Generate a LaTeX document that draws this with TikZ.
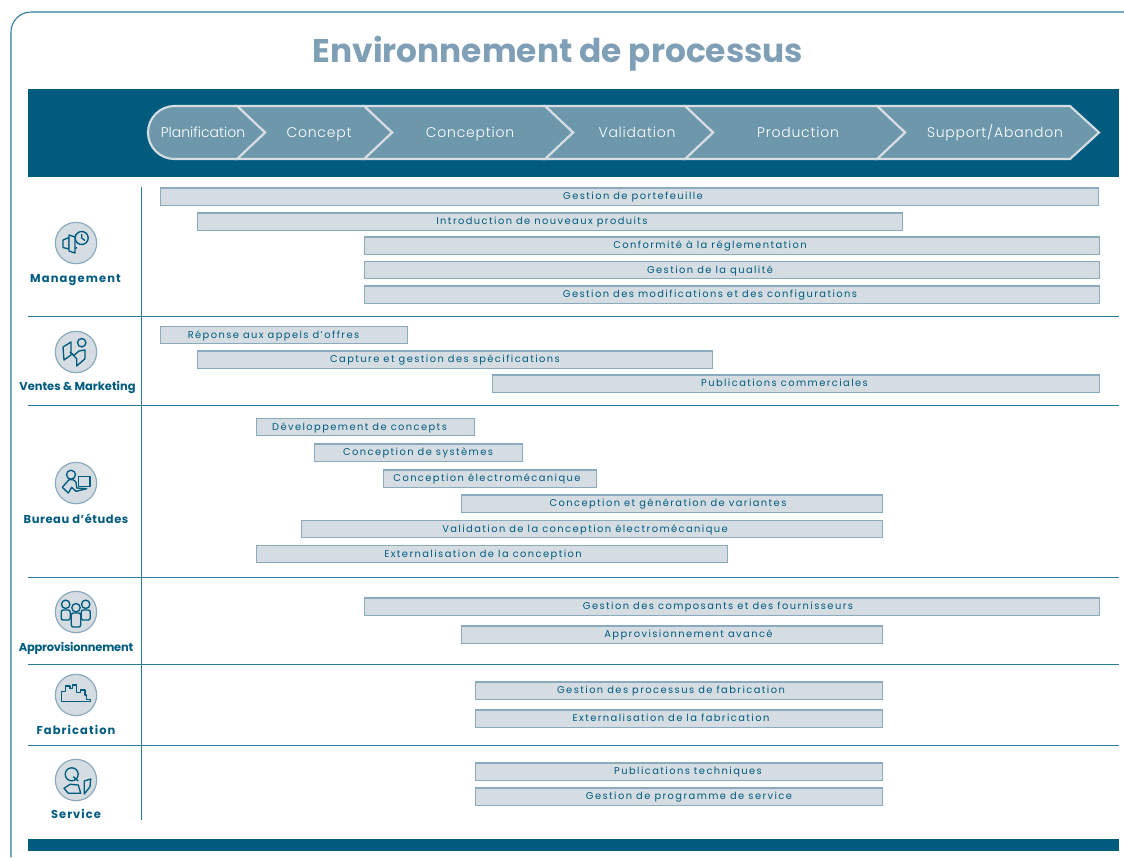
\documentclass[tikz,border=0pt]{standalone}
\usepackage{fontspec}
\setmainfont{Poppins}
\newfontfamily\barfont[LetterSpace=14.5]{Poppins}
\newfontfamily\stagefont[LetterSpace=5.5]{Poppins Light}
\newfontfamily\tightfont[LetterSpace=0]{Poppins Light}
\definecolor{deepblue}{HTML}{005B7F}
\definecolor{midblue}{HTML}{6D98AC}
\definecolor{paleblue}{HTML}{D5DDE3}
\definecolor{edgeblue}{HTML}{8AAABD}
\definecolor{linkblue}{HTML}{2A7A9B}
\definecolor{titleblue}{HTML}{7E9FB5}
\tikzset{
  procbar/.style={draw=edgeblue, fill=paleblue, line width=0.8pt, inner sep=0pt, minimum height=12.8pt},
  proctext/.style={inner sep=0pt, text height=6.5pt, text depth=1.3pt, text=deepblue, font=\barfont\fontsize{7.4}{8}\selectfont},
  stagearrow/.style={draw=paleblue, fill=midblue, line width=1.6pt, line join=miter},
  stagelabel/.style={inner sep=0pt, text height=9pt, text depth=2.5pt, text=white, font=\stagefont\fontsize{10.5}{12}\selectfont},
  rowrule/.style={draw=linkblue, line width=0.7pt},
  rowdisc/.style={circle, draw=edgeblue, fill=paleblue, line width=0.9pt, minimum size=31pt, inner sep=0pt},
  rowlabel/.style={text=deepblue, font=\bfseries\fontsize{8.6}{10}\selectfont\addfontfeature{LetterSpace=#1}},
  iconline/.style={draw=deepblue, line width=1pt, line join=round}
}
\begin{document}
\begin{tikzpicture}[x=0.75pt,y=-0.75pt]
  \useasboundingbox (0,0) rectangle (1124,857);

  % Outer frame
  \draw[linkblue, line width=0.8pt] (1124,12) -- (31,12) arc[start angle=270, end angle=180, radius=20] -- (11,857);

  % Title
  \node[text=titleblue, font=\bfseries\fontsize{24.6}{30}\selectfont] (title) at (558,53.5) {Environnement de processus};

  % Header and footer bands
  \fill[deepblue] (28,89) rectangle (1119,177);
  \fill[deepblue] (28,839) rectangle (1119,851);

  % Stages, last one first so that each tip lies on top of the next
  \draw[stagearrow] (1070,106) -- (1099,132.5) -- (1070,159) -- (877,159) -- (905,132.5) -- (877,106) -- cycle;
  \foreach \xa/\xb in {685/877, 545/685, 364/545, 237/364}
    \draw[stagearrow] (\xb,106) -- ({\xb+28},132.5) -- (\xb,159) -- (\xa,159) -- ({\xa+28},132.5) -- (\xa,106) -- cycle;
  \draw[stagearrow] (237,106) -- (265,132.5) -- (237,159) -- (174.5,159) arc[start angle=90, end angle=270, radius=26.5] -- cycle;

  \node[stagelabel, font=\tightfont\fontsize{10.5}{12}\selectfont] (planif) at (203,133.5) {Planification};
  \node[stagelabel] (concept) at (319,133.5) {Concept};
  \node[stagelabel] (concep) at (470,133.5) {Conception};
  \node[stagelabel] (valid) at (637,133.5) {Validation};
  \node[stagelabel] (prod) at (798,133.5) {Production};
  \node[stagelabel] (support) at (995,133.5) {Support/Abandon};

  % Row separators and the vertical axis
  \foreach \y in {316,405,577,664,745}
    \draw[rowrule] (28,\y) -- (1119,\y);
  \draw[rowrule] (141.5,187) -- (141.5,820);

  % Process bars: left, right, height, text centre, text
  \foreach \xa/\xb/\y/\tc/\txt [count=\i] in {
    160/1098/196.5/633/Gestion de portefeuille,
    197/902/221.5/542/Introduction de nouveaux produits,
    364/1099/245.5/710/Conformité à la réglementation,
    364/1099/270/710/Gestion de la qualité,
    364/1099/294.5/710/Gestion des modifications et des configurations,
    160/407/335/273.5/Réponse aux appels d’offres,
    197/712/359.5/445/Capture et gestion des spécifications,
    492/1099/383.5/784.5/Publications commerciales,
    256/474/427/359.5/Développement de concepts,
    314/522/452.5/418/Conception de systèmes,
    383/596/478.5/487/Conception électromécanique,
    461/882/503.5/668/Conception et génération de variantes,
    301/882/529/585/Validation de la conception électromécanique,
    256/727/554/483/Externalisation de la conception,
    364/1099/606.5/718/Gestion des composants et des fournisseurs,
    461/882/634.5/688.5/Approvisionnement avancé,
    475/882/690.5/671/Gestion des processus de fabrication,
    475/882/718.5/671/Externalisation de la fabrication,
    475/882/771.5/688/Publications techniques,
    475/882/796.5/689/Gestion de programme de service}
  {
    \node[procbar, minimum width={(\xb-\xa)*0.75pt}] (bar\i) at ({(\xa+\xb)/2+0.4},\y) {};
    \node[proctext] (bartext\i) at (\tc,\y) {\txt};
  }

  % Row discs
  \foreach \name/\y in {mgmt/243, sales/352, design/483, supply/612, manuf/695, serv/780}
    \node[rowdisc] (\name) at (76,\y) {};

  % Row labels
  \node[rowlabel=10] (mgmtlabel) at (75.5,280) {Management};
  \node[rowlabel=0] (saleslabel) at (77.5,387) {Ventes \& Marketing};
  \node[rowlabel=5] (designlabel) at (76,518.5) {Bureau d’études};
  \node[rowlabel=-2] (supplylabel) at (76,648) {Approvisionnement};
  \node[rowlabel=9.5] (manuflabel) at (76,730) {Fabrication};
  \node[rowlabel=9] (servlabel) at (76,814) {Service};

  % Management icon
  \begin{scope}[shift={(mgmt.center)}]
    \draw[iconline] (-13,-3) -- (-7,-5.5) -- (-7,6) -- (-13,4.5) -- cycle;
    \draw[iconline, fill=paleblue] (-7,-8) -- (-1,-6) -- (-1,10) -- (-7,8) -- cycle;
    \draw[iconline] (-1,-8) -- (0,-8);
    \draw[iconline] (-1,5.5) -- (1,4.5);
    \draw[iconline, fill=paleblue] (5.7,-5) circle (6.5);
    \draw[iconline] (5.7,-9) -- (5.7,-5) -- (9,-2.5);
  \end{scope}

  % Sales icon
  \begin{scope}[shift={(sales.center)}]
    \draw[iconline] (-13,-5) -- (-5,-10) -- (-5,3) -- (-12,8) -- cycle;
    \draw[iconline, fill=paleblue] (-6,0) -- (-2,3.3) -- (3,-1) -- (9,-2) -- (9,6.7) -- (0.7,14) -- (0.7,6.7) -- cycle;
    \draw[iconline, fill=paleblue] (5.7,-9.3) circle (4.2);
  \end{scope}

  % Design icon
  \begin{scope}[shift={(design.center)}]
    \draw[iconline] (2.3,-6.7) rectangle (14,3.3);
    \draw[iconline, fill=paleblue] (-5,-8.3) circle (4.5);
    \draw[iconline, fill=paleblue] (-7,-3.3) -- (-13.7,4.3) -- (-7.7,10) -- (-4.3,4.3) -- (0,8.3) -- (10.7,5.7) -- (0.7,5) -- (0,-1) -- (-3,-3.3) -- cycle;
  \end{scope}

  % Supply icon
  \begin{scope}[shift={(supply.center)}]
    \foreach \x in {-10.3,9.7}{
      \draw[iconline, rounded corners=1.5pt] ({\x-4.5},8) -- ({\x-4.5},-2) -- ({\x+4.5},-2) -- ({\x+4.5},8) -- cycle;
      \draw[iconline, fill=paleblue] (\x,-7.7) circle (4.2);
    }
    \draw[iconline, fill=paleblue, rounded corners=1.5pt] (-4.7,15) -- (-4.7,1) -- (4.7,1) -- (4.7,15) -- cycle;
    \draw[iconline, fill=paleblue] (0,-4.3) circle (4.2);
  \end{scope}

  % Manufacturing icon
  \begin{scope}[shift={(manuf.center)}]
    \draw[iconline] (-14.3,6.7) -- (-14.3,-3.3) -- (-10.3,-3.3) -- (-10.3,-9) -- (-6,-9) -- (-6,-6.7) -- (-3.7,-6.7) -- (-3.7,-10) -- (0.7,-10) -- (0.7,-2.3) -- (4.7,-2.3) -- (4.7,-5) -- (9,-5) -- (9,0) -- (10.7,0) -- (10.7,4.3) -- (14.7,4.3) -- (14.7,6.7) -- cycle;
  \end{scope}

  % Service icon
  \begin{scope}[shift={(serv.center)}]
    \draw[iconline] (-4.3,-5.7) circle (6.5);
    \draw[iconline] (-2.7,-3.3) -- (2.3,1);
    \draw[iconline] (-12,8.3) -- (-6,4.3) -- (2.3,5) -- (4.7,13.3) -- (-7.7,13.3) -- cycle;
    \draw[iconline] (8.3,1) -- (14.7,-1) -- (14,6.7) -- (8.3,14) -- cycle;
  \end{scope}
\end{tikzpicture}
\end{document}
